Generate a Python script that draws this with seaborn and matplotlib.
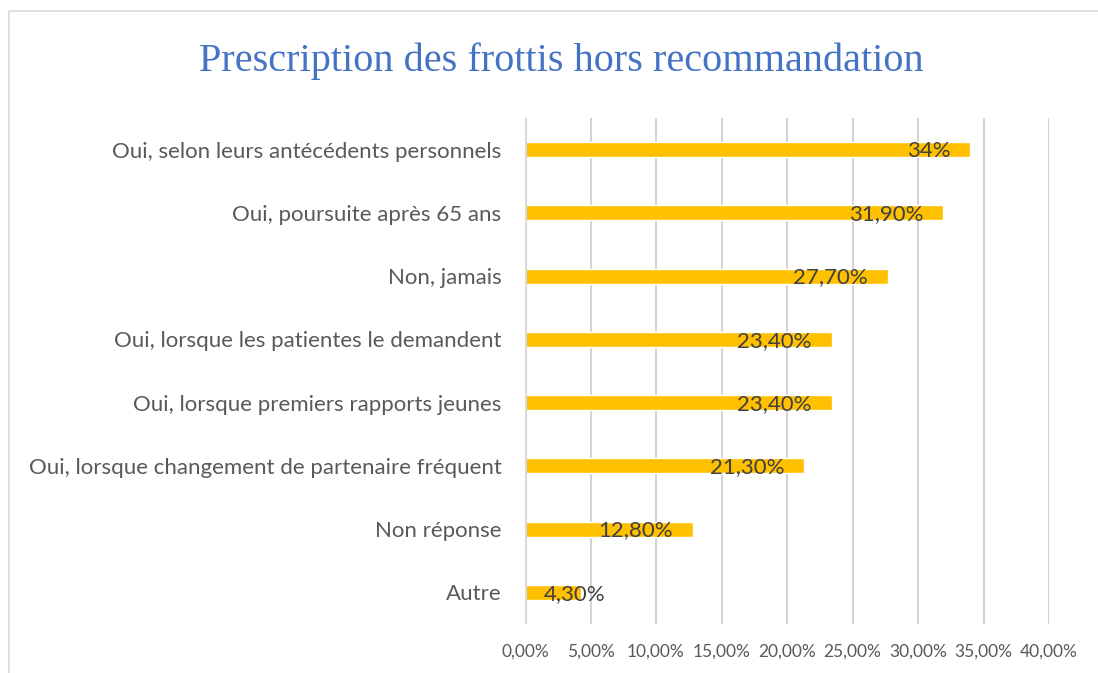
import matplotlib
matplotlib.use("Agg")
import matplotlib.pyplot as plt
import seaborn as sns
import pandas as pd
from matplotlib.patches import Rectangle

categories = [
    "Oui, selon leurs antécédents personnels",
    "Oui, poursuite après 65 ans",
    "Non, jamais",
    "Oui, lorsque les patientes le demandent",
    "Oui, lorsque premiers rapports jeunes",
    "Oui, lorsque changement de partenaire fréquent",
    "Non réponse",
    "Autre",
]
values = [34.0, 31.9, 27.7, 23.4, 23.4, 21.3, 12.8, 4.3]
value_labels = ["34%", "31,90%", "27,70%", "23,40%", "23,40%", "21,30%", "12,80%", "4,30%"]
tick_values = [0, 5, 10, 15, 20, 25, 30, 35, 40]
tick_labels = ["0,00%", "5,00%", "10,00%", "15,00%", "20,00%", "25,00%", "30,00%", "35,00%", "40,00%"]
title = "Prescription des frottis hors recommandation"

df = pd.DataFrame({"cat": categories, "val": values})

sns.set_style("white")
plt.rcParams["font.family"] = ["Lato", "DejaVu Sans"]

fig = plt.figure(figsize=(10.98, 6.73), dpi=100)
ax = fig.add_axes([525 / 1098, 1 - 624 / 673, (1049 - 525) / 1098, (624 - 118) / 673])

sns.barplot(data=df, y="cat", x="val", orient="h", color="#FFC000",
            saturation=1, width=0.24, ax=ax, order=categories)

ax.set_xlim(0, 40)
ax.set_ylim(7.5, -0.5)
ax.set_xticks(tick_values)
ax.set_xticklabels(tick_labels, fontsize=12.5, color="#595959")
ax.tick_params(axis="x", length=0, pad=14)
ax.tick_params(axis="y", length=0, pad=17)
for lbl in ax.get_yticklabels():
    lbl.set_fontsize(16)
    lbl.set_color("#595959")
ax.set_xlabel("")
ax.set_ylabel("")
for s in ax.spines.values():
    s.set_visible(False)

for t in tick_values[1:]:
    ax.axvline(t, color="#D0D0D0", lw=1.3, zorder=0)
ax.axvline(0, color="#D9D9D9", lw=3, zorder=3)

for i, (v, lab) in enumerate(zip(values, value_labels)):
    if v > 8:
        ax.text(v - 1.5, i + 0.02, lab, ha="right", va="center", fontsize=16, color="#404040", zorder=4)
    else:
        ax.text(1.4, i + 0.02, lab, ha="left", va="center", fontsize=16, color="#404040", zorder=4)

fig.text(561 / 1098, 1 - 61 / 673, title, ha="center", va="center",
         fontsize=29, color="#4472C4", family="Liberation Serif")

# chart area border
fig.patches.append(Rectangle((9 / 1098, -0.1), 1.2, 1 - 11 / 673 + 0.1,
                             transform=fig.transFigure, fill=False,
                             edgecolor="#D9D9D9", lw=1.2))

fig.savefig("out.png", dpi=100)
